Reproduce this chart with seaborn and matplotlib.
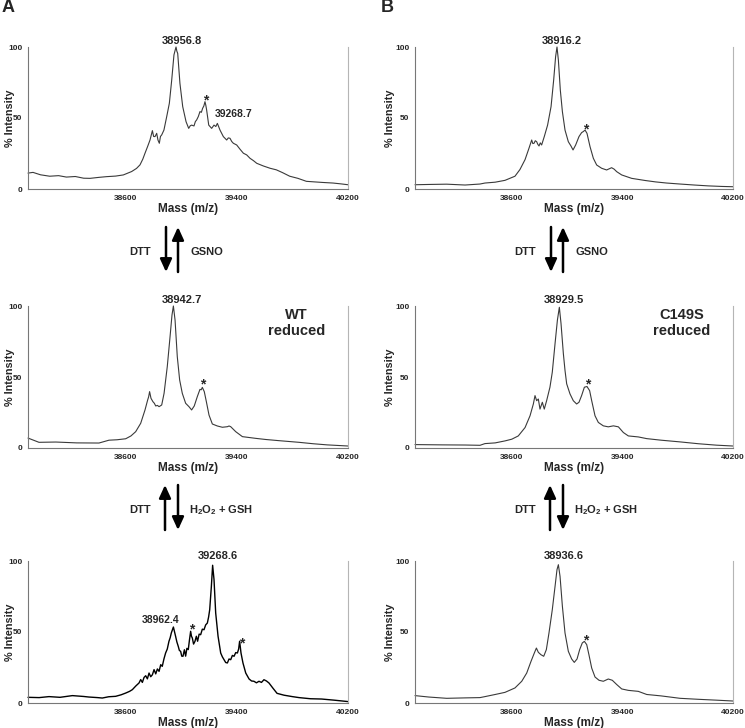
import numpy as np
import pandas as pd
import matplotlib
matplotlib.use("Agg")
import matplotlib.pyplot as plt
import seaborn as sns

sns.set_style("white")
plt.rcParams['font.family'] = ['Liberation Sans', 'DejaVu Sans']
plt.rcParams['mathtext.fontset'] = 'custom'
plt.rcParams['mathtext.rm'] = 'Liberation Sans'
plt.rcParams['mathtext.bf'] = 'Liberation Sans:bold'

# spectra (mass in Da, % intensity)
wt_ox_mass = [37900, 37936, 37990, 38056, 38120, 38176, 38240, 38300, 38346, 38410, 38465, 38530, 38585,
              38645, 38680, 38705, 38725, 38741, 38760, 38777, 38794, 38803, 38813, 38825, 38834, 38844,
              38852, 38861, 38877, 38897, 38916, 38933, 38949, 38957, 38964, 38970, 38976, 38992, 39012,
              39036, 39055, 39066, 39076, 39093, 39103, 39112, 39124, 39136, 39146, 39155, 39164, 39172,
              39178, 39184, 39199, 39220, 39237, 39250, 39261, 39270, 39280, 39304, 39328, 39340, 39352,
              39364, 39376, 39400, 39424, 39448, 39472, 39496, 39520, 39544, 39592, 39640, 39685, 39730,
              39781, 39840, 39901, 39960, 40020, 40092, 40150, 40200]
wt_ox_int = [11.2, 11.7, 10.0, 9.0, 9.4, 8.4, 8.8, 7.6, 7.5, 8.2, 8.7, 9.1, 9.9,
             12.3, 14.5, 17.0, 21.0, 25.2, 30.0, 34.5, 41.1, 37.0, 36.9, 39.2, 34.5, 32.2,
             37.0, 38.1, 41.5, 51.0, 60.4, 76.8, 94.4, 97.5, 100.0, 97.0, 95.5, 74.4, 58.0,
             47.4, 42.7, 44.5, 45.0, 44.4, 47.5, 48.6, 51.0, 54.5, 54.0, 56.8, 58.5, 61.5,
             59.0, 55.6, 45.0, 42.7, 45.0, 44.0, 46.2, 44.0, 41.5, 36.9, 34.5, 36.0, 35.7,
             33.5, 32.2, 31.0, 28.0, 25.2, 24.0, 21.6, 20.0, 18.1, 16.2, 14.6, 13.5, 11.5,
             9.0, 7.5, 5.4, 5.0, 4.6, 4.2, 3.6, 3.0]

mut_ox_mass = [37900, 38000, 38129, 38262, 38370, 38406, 38480, 38551, 38623, 38659, 38696, 38724, 38744,
               38752, 38761, 38770, 38780, 38788, 38797, 38806, 38816, 38835, 38859, 38884, 38903, 38917,
               38927, 38937, 38951, 38966, 38985, 39009, 39028, 39043, 39062, 39086, 39105, 39118, 39130,
               39144, 39166, 39190, 39214, 39250, 39286, 39304, 39322, 39340, 39359, 39395, 39467, 39564,
               39640, 39720, 39817, 39920, 40020, 40120, 40200]
mut_ox_int = [3.0, 3.2, 3.4, 2.8, 3.5, 4.2, 4.8, 6.1, 9.0, 13.7, 20.7, 28.6, 34.5,
              32.0, 32.2, 34.0, 33.3, 31.5, 30.3, 32.5, 31.0, 36.9, 45.0, 58.0, 76.8, 93.2,
              100.0, 90.8, 69.7, 54.5, 41.5, 33.3, 30.3, 27.5, 31.0, 36.9, 39.7, 40.5, 41.5,
              39.2, 29.8, 21.6, 16.9, 14.6, 13.4, 14.2, 15.0, 14.0, 12.2, 9.9, 7.5, 6.0,
              5.0, 4.2, 3.5, 2.8, 2.2, 1.8, 1.6]

wt_red_mass = [37900, 37979, 38100, 38250, 38410, 38482, 38540, 38602, 38640, 38674, 38710, 38741, 38760,
               38767, 38774, 38784, 38798, 38808, 38818, 38830, 38842, 38861, 38878, 38901, 38921, 38935,
               38945, 38957, 38973, 38990, 39009, 39033, 39057, 39076, 39095, 39117, 39136, 39145, 39153,
               39167, 39182, 39201, 39225, 39261, 39297, 39333, 39345, 39357, 39393, 39441, 39536, 39608,
               39700, 39848, 39950, 40050, 40200]
wt_red_int = [7.0, 4.0, 4.2, 3.6, 3.5, 5.5, 5.8, 6.5, 8.5, 11.5, 17.4, 26.8, 33.8,
              36.0, 39.7, 35.0, 32.6, 31.5, 29.6, 30.0, 29.1, 30.3, 38.5, 57.3, 78.4, 93.7,
              100.0, 90.1, 64.3, 47.9, 38.5, 31.5, 29.1, 26.8, 29.6, 36.2, 41.3, 41.0, 42.7,
              39.7, 32.6, 23.2, 16.9, 15.5, 14.6, 15.0, 15.5, 15.0, 11.5, 8.0, 6.8, 6.0,
              5.2, 4.0, 3.0, 2.2, 1.4]

mut_red_mass = [37900, 38100, 38262, 38370, 38406, 38480, 38551, 38600, 38647, 38696, 38732, 38756, 38768,
                38780, 38792, 38804, 38821, 38835, 38852, 38876, 38893, 38913, 38930, 38944, 38956, 38973,
                38985, 38997, 39021, 39045, 39069, 39086, 39105, 39125, 39144, 39163, 39178, 39202, 39226,
                39262, 39298, 39335, 39371, 39407, 39443, 39515, 39576, 39680, 39817, 39950, 40080, 40200]
mut_red_int = [2.4, 2.2, 2.1, 1.9, 3.1, 3.6, 5.0, 6.2, 8.5, 14.4, 22.7, 31.0, 36.9,
               33.3, 34.5, 27.4, 32.2, 27.4, 33.3, 42.8, 53.4, 73.6, 90.1, 99.1, 87.8, 66.5,
               54.6, 45.2, 38.1, 33.3, 31.0, 32.2, 36.9, 42.8, 43.3, 40.4, 33.3, 22.7, 18.0,
               15.6, 14.9, 15.6, 14.9, 10.9, 8.5, 7.8, 6.6, 5.5, 4.3, 3.0, 2.0, 1.4]

wt_gsh_mass = [37900, 37980, 38051, 38130, 38219, 38300, 38338, 38400, 38434, 38480, 38530, 38570, 38602,
               38630, 38650, 38675, 38698, 38710, 38722, 38734, 38746, 38758, 38770, 38782, 38794, 38806,
               38818, 38830, 38842, 38854, 38865, 38877, 38889, 38901, 38913, 38922, 38930, 38945, 38961,
               38970, 38980, 38988, 38997, 39005, 39014, 39024, 39033, 39042, 39052, 39060, 39069, 39075,
               39081, 39090, 39100, 39110, 39119, 39130, 39141, 39153, 39165, 39177, 39189, 39198, 39206,
               39212, 39218, 39227, 39237, 39249, 39266, 39285, 39297, 39309, 39321, 39333, 39345, 39357,
               39369, 39381, 39393, 39405, 39414, 39421, 39431, 39445, 39465, 39489, 39507, 39524, 39542,
               39560, 39578, 39596, 39614, 39632, 39660, 39690, 39740, 39800, 39848, 39930, 40010, 40100,
               40200]
wt_gsh_int = [4.0, 3.8, 4.5, 4.0, 5.2, 4.6, 4.2, 3.8, 3.5, 4.4, 4.7, 5.8, 7.0,
              8.2, 9.4, 12.0, 14.1, 16.5, 14.5, 18.0, 19.2, 17.0, 21.1, 18.5, 19.9, 23.5,
              20.5, 24.0, 22.3, 27.0, 25.8, 31.0, 35.2, 38.0, 43.4, 46.0, 49.3, 53.5, 46.9,
              43.0, 39.9, 37.0, 36.4, 33.0, 32.9, 37.5, 33.0, 38.5, 37.6, 44.0, 50.5, 47.0,
              45.8, 41.5, 43.4, 47.0, 43.5, 48.5, 48.1, 52.0, 51.6, 55.0, 56.3, 60.5, 65.7,
              74.0, 82.2, 97.0, 86.9, 63.4, 47.0, 35.2, 32.5, 30.5, 28.5, 28.2, 31.0, 30.5,
              33.5, 32.9, 35.5, 35.2, 38.0, 43.5, 35.2, 28.2, 21.1, 16.9, 15.5, 15.3, 14.2,
              15.3, 14.5, 16.4, 15.5, 14.1, 10.5, 6.8, 5.5, 4.5, 3.8, 3.0, 2.8, 2.0,
              1.0]

mut_gsh_mass = [37900, 38000, 38129, 38262, 38370, 38406, 38480, 38551, 38623, 38672, 38708, 38739, 38763,
                38778, 38792, 38811, 38831, 38850, 38869, 38893, 38913, 38927, 38937, 38949, 38966, 38985,
                39009, 39033, 39052, 39072, 39091, 39110, 39125, 39142, 39158, 39178, 39202, 39231, 39262,
                39298, 39327, 39359, 39395, 39443, 39515, 39576, 39680, 39817, 39950, 40080, 40200]
mut_gsh_int = [5.2, 4.2, 3.3, 3.6, 3.8, 4.5, 6.0, 7.5, 10.6, 15.3, 21.1, 29.3, 35.2,
               38.7, 35.7, 34.0, 32.9, 37.6, 49.3, 65.7, 82.2, 93.9, 97.4, 89.2, 68.1, 49.3,
               36.4, 31.0, 28.6, 31.0, 37.6, 42.3, 43.4, 41.1, 34.0, 24.6, 18.3, 16.0, 15.3,
               16.9, 16.0, 13.0, 9.9, 8.9, 8.2, 6.0, 5.0, 3.3, 2.6, 2.0, 1.4]

panels = {
    "wt_ox": (wt_ox_mass, wt_ox_int),
    "mut_ox": (mut_ox_mass, mut_ox_int),
    "wt_red": (wt_red_mass, wt_red_int),
    "mut_red": (mut_red_mass, mut_red_int),
    "wt_gsh": (wt_gsh_mass, wt_gsh_int),
    "mut_gsh": (mut_gsh_mass, mut_gsh_int),
}

# annotations: (x, y, text, ha, size)
notes = {
    "wt_ox": [(39005, 101, "38956.8", "center", 8), (39177, 62, "*", "center", 10),
              (39244, 49, "39268.7", "left", 7.5)],
    "mut_ox": [(38961, 101, "38916.2", "center", 8), (39135, 42, "*", "center", 10)],
    "wt_red": [(39005, 101, "38942.7", "center", 8), (39153, 45, "*", "center", 10)],
    "mut_red": [(38978, 101, "38929.5", "center", 8), (39146, 45, "*", "center", 10)],
    "wt_gsh": [(39263, 100, "39268.6", "center", 8), (38853, 55, "38962.4", "center", 7.5),
               (39077, 52, "*", "center", 10), (39433, 42, "*", "center", 10)],
    "mut_gsh": [(38978, 100, "38936.6", "center", 8), (39135, 44, "*", "center", 10)],
}
boxes = {"wt_red": "WT\nreduced", "mut_red": "C149S\nreduced"}

W, H = 745, 728
fig = plt.figure(figsize=(W / 100, H / 100), dpi=100)

# column: (left px, width px, ylabel x in axes fraction)
cols = {"wt": (28, 320, -0.042), "mut": (415, 318, -0.063)}
rows = {"ox": (47, 189), "red": (306, 448), "gsh": (561, 703)}

for key, (mass, inten) in panels.items():
    c, r = key.split("_")
    x0, w, ylx = cols[c]
    top, bot = rows[r]
    ax = fig.add_axes([x0 / W, 1 - bot / H, w / W, (bot - top) / H])
    df = pd.DataFrame({"mass": mass, "intensity": inten})
    lw, col = (1.0, "black") if key == "wt_gsh" else (0.8, "#3a3a3a")
    sns.lineplot(data=df, x="mass", y="intensity", ax=ax, color=col, linewidth=lw,
                 estimator=None, sort=False)
    for ln in ax.lines:
        ln.set_clip_on(False)
    ax.set_xlim(37900, 40200)
    ax.set_ylim(0, 100)
    ax.set_xticks([38600, 39400, 40200])
    ax.set_yticks([0, 50, 100])
    ax.tick_params(axis="both", labelsize=6, length=2, width=0.6, color="#777", pad=2)
    for lab in ax.get_xticklabels() + ax.get_yticklabels():
        lab.set_fontweight("bold")
    ax.spines["top"].set_visible(False)
    for s in ["left", "bottom"]:
        ax.spines[s].set_color("#777")
        ax.spines[s].set_linewidth(0.8)
    ax.spines["right"].set_color("#b5b5b5")
    ax.spines["right"].set_linewidth(0.8)
    ax.set_xlabel("Mass (m/z)", fontsize=8.5, fontweight="bold", labelpad=1)
    ax.set_ylabel("% Intensity", fontsize=7.8, fontweight="bold")
    ax.yaxis.set_label_coords(ylx, 0.5)
    for (tx, ty, t, ha, sz) in notes[key]:
        ax.text(tx, ty, t, ha=ha, va="bottom" if t != "*" else "center", fontsize=sz, fontweight="bold")
    if key in boxes:
        ax.text(39830, 88, boxes[key], ha="center", va="center", fontsize=10.5,
                fontweight="bold", linespacing=1.25)

fig.text(2 / W, 1 - 8 / H, "A", fontsize=13, fontweight="bold", ha="left", va="center")
fig.text(381 / W, 1 - 8 / H, "B", fontsize=13, fontweight="bold", ha="left", va="center")


def arrow(x, y_from, y_to):
    fig.add_artist(matplotlib.patches.FancyArrowPatch(
        (x / W, 1 - y_from / H), (x / W, 1 - y_to / H), transform=fig.transFigure,
        arrowstyle="-|>,head_width=0.32,head_length=0.7", mutation_scale=11,
        linewidth=1.8, color="black", shrinkA=0, shrinkB=0))


for dx in (0, 385):
    # oxidised <-> reduced
    arrow(166 + dx, 227, 272)
    arrow(178 + dx, 272, 227)
    fig.text((140 + dx) / W, 1 - 252 / H, "DTT", fontsize=8, fontweight="bold", ha="center", va="center")
    fig.text((190 + dx) / W, 1 - 252 / H, "GSNO", fontsize=8, fontweight="bold", ha="left", va="center")
    # reduced <-> glutathionylated
    arrow(165 + dx, 530, 485)
    arrow(178 + dx, 485, 530)
    fig.text((140 + dx) / W, 1 - 510 / H, "DTT", fontsize=8, fontweight="bold", ha="center", va="center")
    fig.text((189 + dx) / W, 1 - 510 / H, r"$\mathbf{H_2O_2}$ + GSH", fontsize=8, fontweight="bold",
             ha="left", va="center")

fig.savefig("out.png", dpi=100)
